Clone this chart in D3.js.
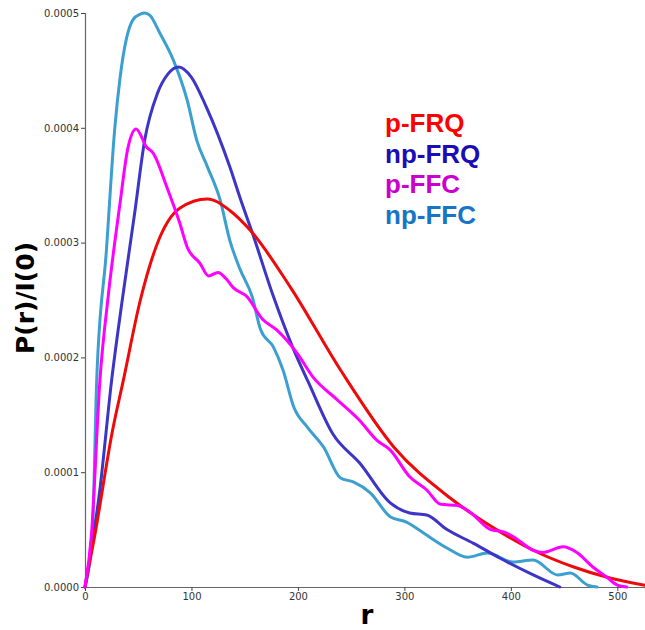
<!DOCTYPE html>
<html>
<head>
<meta charset="utf-8">
<script src="https://cdn.jsdelivr.net/npm/d3@7"></script>
<style>
	body { margin: 0; background: #fff; }
	svg { display: block; }
</style>
</head>
<body>
<svg id="graphic" width="645" height="630"></svg>
<script>
var LINE_WIDTH = 3; // px
var Y_UNIT = 1e-4;  // values below are stored in units of 1e-4

// Each series: [r, P(r)/I(0) in 1e-4]
var pFRQ = [
	[0, 0], [9, 0.44], [26, 1.37], [36, 1.80], [52, 2.50], [70, 3.04], [89, 3.30],
	[115, 3.38], [136, 3.28], [155, 3.11], [193, 2.61], [240, 1.89], [290, 1.22],
	[343, 0.775], [390, 0.48], [421, 0.32], [459, 0.174], [493, 0.078], [526, 0.015]
];

var npFRQ = [
	[0, 0], [14, 0.85], [25, 1.80], [35, 2.50], [47, 3.28], [56, 3.89], [68, 4.30],
	[78, 4.47], [88, 4.53], [100, 4.44], [114, 4.18], [136, 3.66], [146, 3.38],
	[157, 3.09], [177, 2.53], [195, 2.09], [210, 1.78], [233, 1.33], [258, 1.08],
	[287, 0.73], [305, 0.645], [321, 0.627], [340, 0.50], [365, 0.38], [390, 0.25],
	[421, 0.105], [446, 0]
];

var pFFC = [
	[0, 0], [6, 0.45], [14, 1.80], [22, 2.55], [33, 3.35], [40, 3.81], [48, 3.99],
	[58, 3.83], [64, 3.78], [77, 3.48], [89, 3.17], [96, 2.96], [108, 2.82],
	[116, 2.71], [125, 2.74], [133, 2.68], [139, 2.61], [152, 2.53], [167, 2.33],
	[180, 2.24], [199, 2.04], [214, 1.83], [237, 1.63], [258, 1.45], [274, 1.28],
	[287, 1.19], [305, 0.96], [321, 0.845], [334, 0.72], [350, 0.71], [362, 0.65],
	[381, 0.50], [393, 0.48], [402, 0.44], [421, 0.32], [430, 0.30], [449, 0.35],
	[462, 0.30], [477, 0.174], [490, 0.087], [500, 0.017], [509, 0]
];

var npFFC = [
	[0, 0], [7, 0.5], [11, 1.80], [20, 2.92], [28, 4.0], [33, 4.44], [45, 4.94],
	[52, 4.99], [56, 5.0], [61, 4.98], [70, 4.83], [83, 4.59], [96, 4.24], [105, 3.89],
	[115, 3.66], [127, 3.37], [136, 3.02], [146, 2.76], [157, 2.53], [165, 2.24],
	[177, 2.09], [186, 1.89], [196, 1.57], [209, 1.39], [224, 1.22], [240, 0.95],
	[252, 0.915], [268, 0.82], [287, 0.61], [302, 0.566], [318, 0.47], [340, 0.34],
	[359, 0.26], [378, 0.296], [402, 0.218], [421, 0.235], [444, 0.105],
	[456, 0.122], [472, 0.017], [481, 0]
];

var seriesNames = ["p-FRQ", "np-FRQ", "p-FFC", "np-FFC"];
var seriesData = [pFRQ, npFRQ, pFFC, npFFC];
var lineColors = ["#ee0a0a", "#3c35c5", "#ff00ff", "#3b9fcf"];
var legendColors = ["#ff0000", "#1a0db5", "#cc00cc", "#1874c4"];

var xTicks = [0, 100, 200, 300, 400, 500];
var yTicks = [0, 0.0001, 0.0002, 0.0003, 0.0004, 0.0005];


function generateGraphic() {
	var svg = d3.select("svg"),
		margin = { top: 13, right: 0, bottom: 43, left: 85 },
		width = +svg.attr("width") - margin.left - margin.right,
		height = +svg.attr("height") - margin.top - margin.bottom,
		g = svg.append("g").attr("transform", "translate(" + margin.left + "," + margin.top + ")");

	var x = d3.scaleLinear().domain([0, 526]).range([0, width]);
	var y = d3.scaleLinear().domain([0, 0.0005]).range([height, 0]);

	// Axes
	var xAxis = g.append("g")
		.attr("transform", "translate(0," + height + ")")
		.call(d3.axisBottom(x).tickValues(xTicks).tickSize(4).tickFormat(d3.format("d")));

	var yAxis = g.append("g")
		.call(d3.axisLeft(y).tickValues(yTicks).tickSize(4).tickFormat(d3.format(".4f")));

	[xAxis, yAxis].forEach(function(ax) {
		ax.selectAll("path.domain").attr("stroke", "#666").attr("stroke-width", 1.2);
		ax.selectAll(".tick line").attr("stroke", "#444");
		ax.selectAll(".tick text")
			.attr("fill", "#333")
			.attr("font-family", "DejaVu Sans, sans-serif")
			.attr("font-size", "10px");
	});
	xAxis.selectAll(".tick text").attr("y", 6);
	yAxis.selectAll(".tick text").attr("x", -6);

	// Curves
	var line = d3.line()
		.x(function(d) { return x(d[0]); })
		.y(function(d) { return y(d[1] * Y_UNIT); })
		.curve(d3.curveMonotoneX);

	var drawOrder = [3, 1, 0, 2];
	for (var k = 0; k < drawOrder.length; k++) {
		var i = drawOrder[k];
		g.append("path")
			.datum(seriesData[i])
			.attr("fill", "none")
			.attr("stroke", lineColors[i])
			.attr("stroke-width", LINE_WIDTH)
			.attr("stroke-linejoin", "round")
			.attr("stroke-linecap", "round")
			.attr("d", line);
	}

	// Legend (coloured text only)
	var leg = svg.append("g")
		.attr("font-family", "Liberation Sans, Arial, sans-serif")
		.attr("font-weight", "bold")
		.attr("font-size", "26px");

	for (var i = 0; i < seriesNames.length; i++) {
		leg.append("text")
			.attr("x", 385)
			.attr("y", 132 + i * 30.5)
			.attr("fill", legendColors[i])
			.text(seriesNames[i]);
	}

	// Axis titles
	svg.append("text")
		.attr("transform", "translate(34," + 298 + ") rotate(-90)")
		.attr("text-anchor", "middle")
		.attr("font-family", "DejaVu Sans, sans-serif")
		.attr("font-weight", "bold")
		.attr("font-size", "25px")
		.attr("fill", "#000")
		.text("P(r)/I(0)");

	svg.append("text")
		.attr("x", margin.left + width / 2 + 2)
		.attr("y", 624)
		.attr("text-anchor", "middle")
		.attr("font-family", "DejaVu Sans, sans-serif")
		.attr("font-weight", "bold")
		.attr("font-size", "26px")
		.attr("fill", "#000")
		.text("r");
}

generateGraphic();
</script>
</body>
</html>
